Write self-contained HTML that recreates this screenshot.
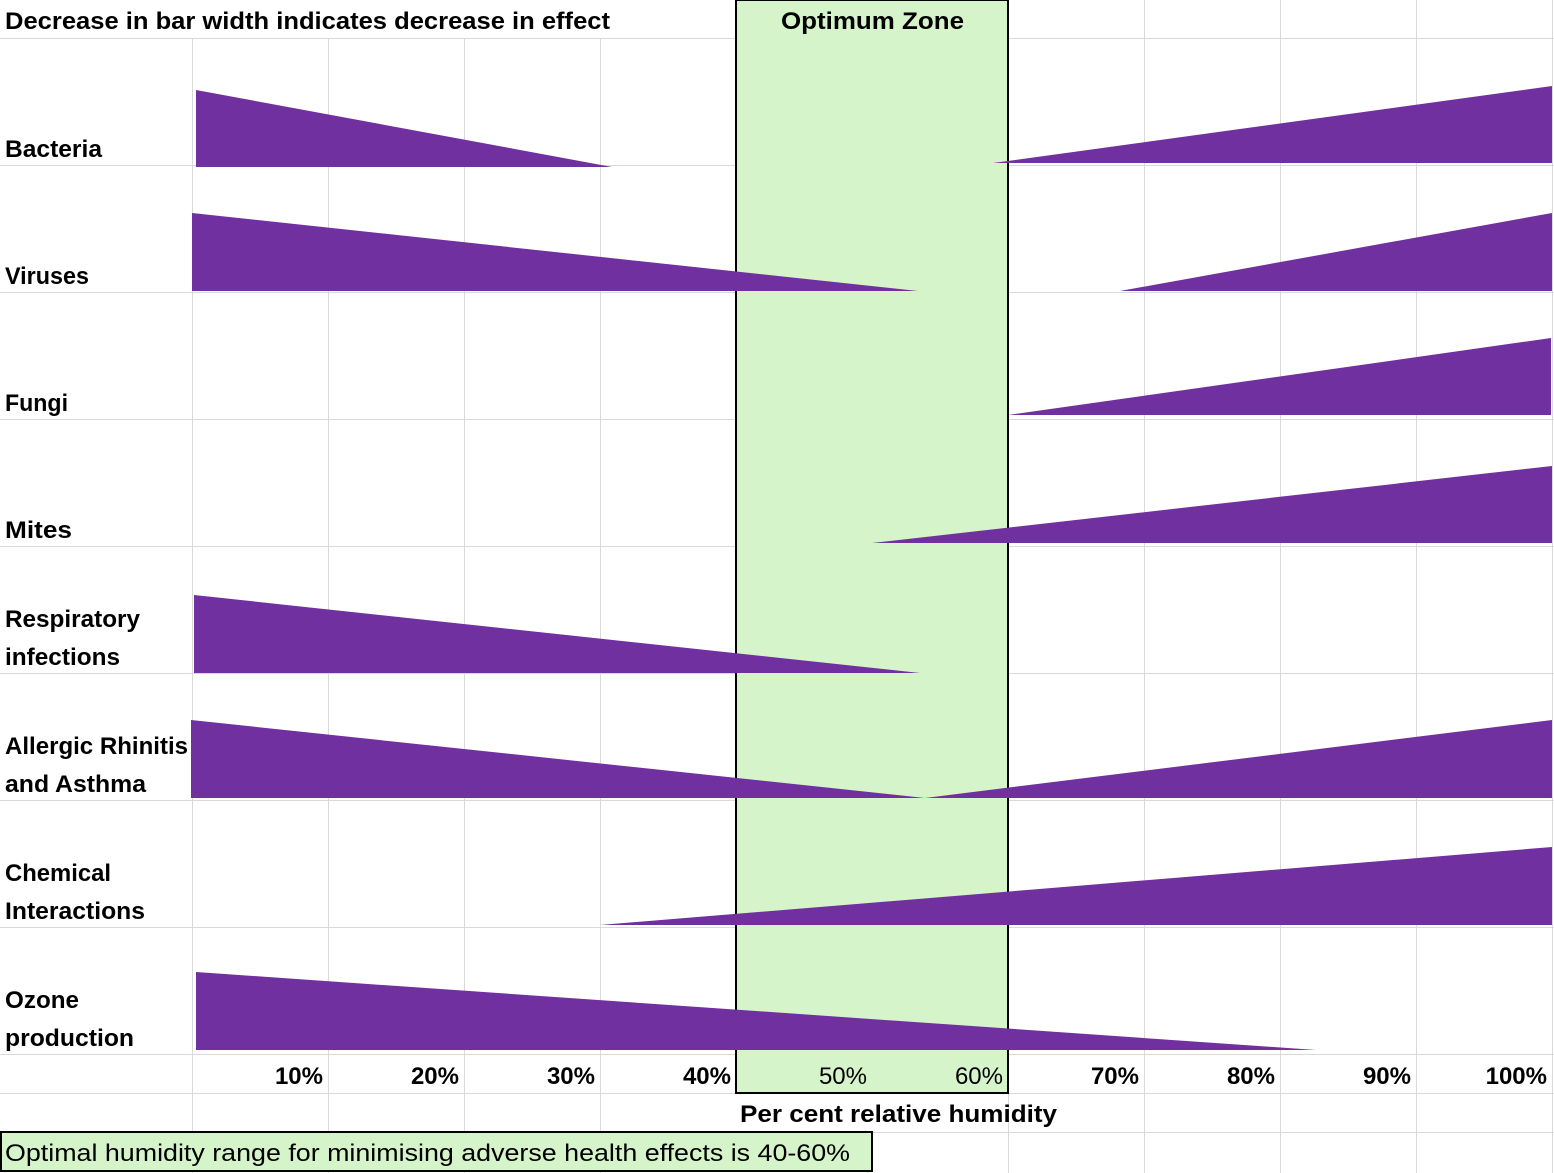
<!DOCTYPE html>
<html><head><meta charset="utf-8"><style>html,body{margin:0;padding:0;background:#fff}svg{display:block}</style></head>
<body>
<svg width="1554" height="1173" viewBox="0 0 1554 1173" xmlns="http://www.w3.org/2000/svg" font-family="Liberation Sans, sans-serif" font-size="24">
<rect width="1554" height="1173" fill="#fff"/>
<g stroke="#d9d9d9" stroke-width="1">
<line x1="192.5" y1="38" x2="192.5" y2="1173"/>
<line x1="328.5" y1="38" x2="328.5" y2="1173"/>
<line x1="464.5" y1="38" x2="464.5" y2="1173"/>
<line x1="600.5" y1="38" x2="600.5" y2="1173"/>
<line x1="1144.5" y1="0" x2="1144.5" y2="1173"/>
<line x1="1280.5" y1="0" x2="1280.5" y2="1173"/>
<line x1="1416.5" y1="0" x2="1416.5" y2="1173"/>
<line x1="1552.5" y1="0" x2="1552.5" y2="1173"/>
<line x1="1008.5" y1="1093" x2="1008.5" y2="1173"/>
<line x1="0" y1="38.5" x2="1554" y2="38.5"/>
<line x1="0" y1="165.5" x2="1554" y2="165.5"/>
<line x1="0" y1="292.5" x2="1554" y2="292.5"/>
<line x1="0" y1="419.5" x2="1554" y2="419.5"/>
<line x1="0" y1="546.5" x2="1554" y2="546.5"/>
<line x1="0" y1="673.5" x2="1554" y2="673.5"/>
<line x1="0" y1="800.5" x2="1554" y2="800.5"/>
<line x1="0" y1="927.5" x2="1554" y2="927.5"/>
<line x1="0" y1="1054.5" x2="1554" y2="1054.5"/>
<line x1="0" y1="1093.5" x2="1554" y2="1093.5"/>
<line x1="0" y1="1132.5" x2="1554" y2="1132.5"/>
</g>
<rect x="736" y="0" width="272" height="1093" fill="#d5f4c9" stroke="#000" stroke-width="2"/>
<rect x="1" y="1132" width="871" height="39" fill="#d5f4c9" stroke="#000" stroke-width="2"/>
<g fill="#7030a0">
<polygon points="196,90 196,167 612,167"/>
<polygon points="993,163 1552,86 1552,163"/>
<polygon points="192,213 192,291 918,291"/>
<polygon points="1120,291 1552,213 1552,291"/>
<polygon points="1008,415 1551,338 1551,415"/>
<polygon points="872,543 1552,466 1552,543"/>
<polygon points="194,595 194,673 920,673"/>
<polygon points="191,720 191,798 925,798"/>
<polygon points="925,798 1552,720 1552,798"/>
<polygon points="600,925 1552,847 1552,925"/>
<polygon points="196,972 196,1050 1316,1050"/>
</g>
<g font-weight="bold" fill="#000">
<text x="5" y="29" textLength="605" lengthAdjust="spacingAndGlyphs">Decrease in bar width indicates decrease in effect</text>
<text x="781" y="29" textLength="183" lengthAdjust="spacingAndGlyphs">Optimum Zone</text>
<text x="5" y="157" textLength="97" lengthAdjust="spacingAndGlyphs">Bacteria</text>
<text x="5" y="284" textLength="84" lengthAdjust="spacingAndGlyphs">Viruses</text>
<text x="5" y="411" textLength="63" lengthAdjust="spacingAndGlyphs">Fungi</text>
<text x="5" y="538" textLength="67" lengthAdjust="spacingAndGlyphs">Mites</text>
<text x="5" y="627" textLength="135" lengthAdjust="spacingAndGlyphs">Respiratory</text>
<text x="5" y="665" textLength="115" lengthAdjust="spacingAndGlyphs">infections</text>
<text x="5" y="754" textLength="183" lengthAdjust="spacingAndGlyphs">Allergic Rhinitis</text>
<text x="5" y="792" textLength="141" lengthAdjust="spacingAndGlyphs">and Asthma</text>
<text x="5" y="881" textLength="106" lengthAdjust="spacingAndGlyphs">Chemical</text>
<text x="5" y="919" textLength="140" lengthAdjust="spacingAndGlyphs">Interactions</text>
<text x="5" y="1008" textLength="74" lengthAdjust="spacingAndGlyphs">Ozone</text>
<text x="5" y="1046" textLength="129" lengthAdjust="spacingAndGlyphs">production</text>
<g text-anchor="end">
<text x="323" y="1084">10%</text>
<text x="459" y="1084">20%</text>
<text x="595" y="1084">30%</text>
<text x="731" y="1084">40%</text>
<text x="1139" y="1084">70%</text>
<text x="1275" y="1084">80%</text>
<text x="1411" y="1084">90%</text>
<text x="1547" y="1084">100%</text>
</g>
<text x="740" y="1122" textLength="317" lengthAdjust="spacingAndGlyphs">Per cent relative humidity</text>
</g>
<g text-anchor="end" fill="#000">
<text x="867" y="1084">50%</text>
<text x="1003" y="1084">60%</text>
</g>
<text x="5" y="1161" fill="#000" textLength="845" lengthAdjust="spacingAndGlyphs">Optimal humidity range for minimising adverse health effects is 40-60%</text>
</svg>
</body></html>
